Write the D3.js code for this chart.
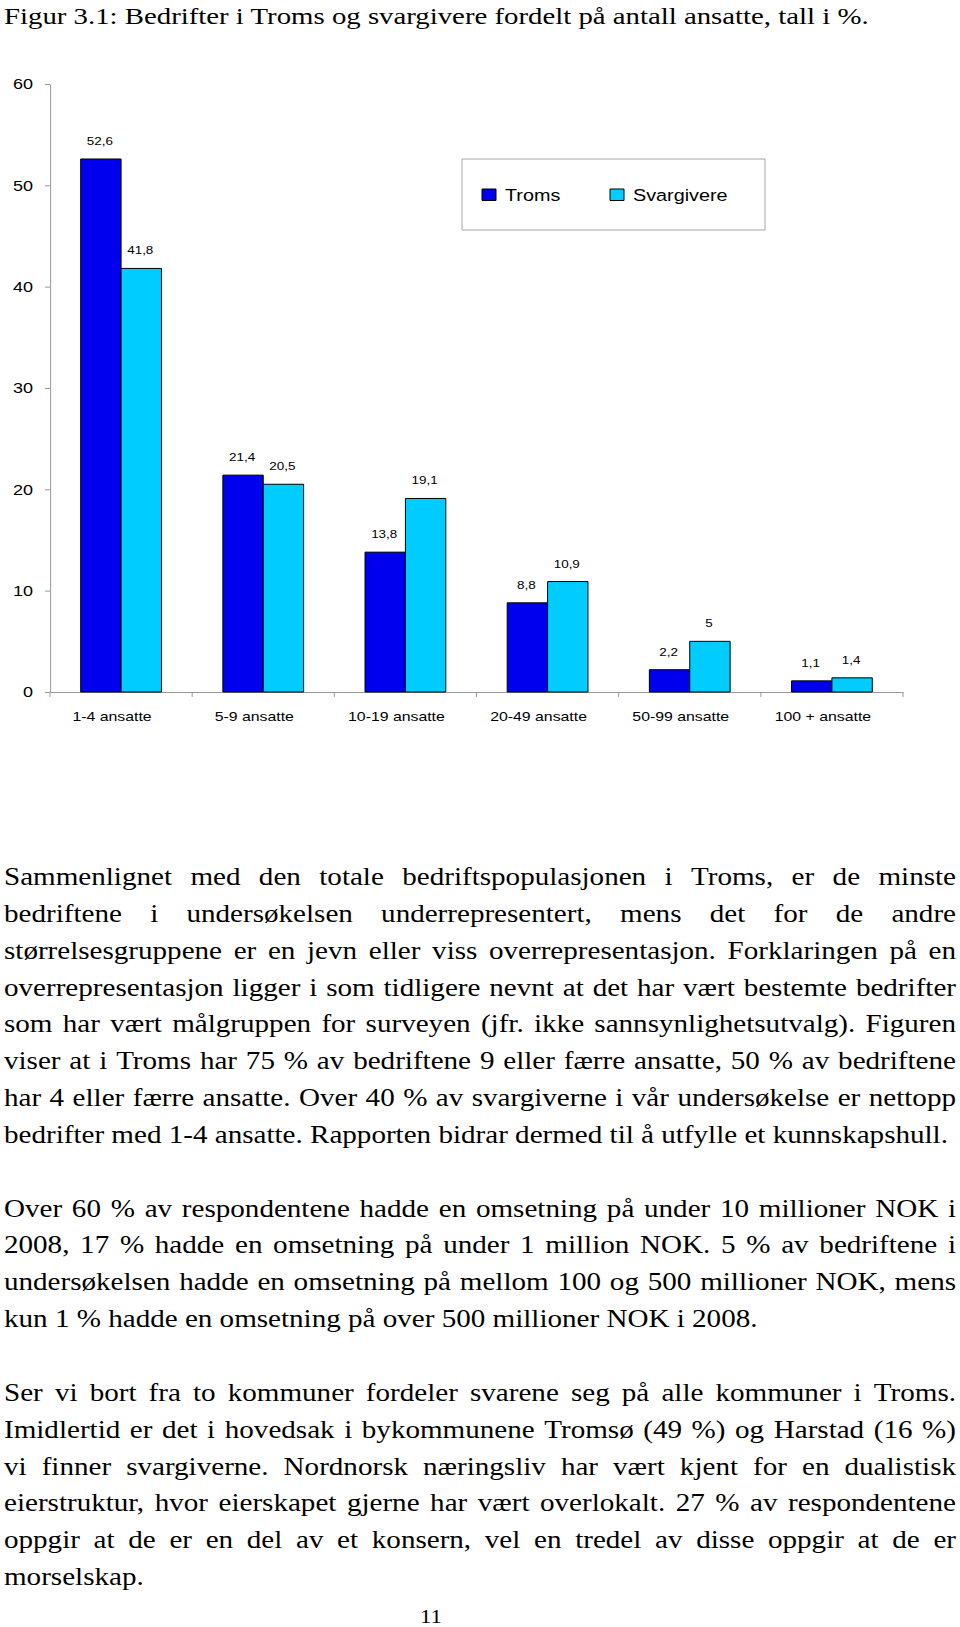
<!DOCTYPE html>
<html>
<head>
<meta charset="utf-8">
<script src="https://cdn.jsdelivr.net/npm/d3@7"></script>
<style>
  html, body { margin: 0; padding: 0; background: #fff; }
  svg { display: block; }
</style>
</head>
<body>
<div id="page"></div>
<script>
// data
const categories = ["1-4 ansatte", "5-9 ansatte", "10-19 ansatte", "20-49 ansatte", "50-99 ansatte", "100 + ansatte"];
const series = ["Troms", "Svargivere"];
const troms = [52.6, 21.4, 13.8, 8.8, 2.2, 1.1];
const svargivere = [41.8, 20.5, 19.1, 10.9, 5, 1.4];
const yTicks = [0, 10, 20, 30, 40, 50, 60];
const colors = ["#0000ee", "#00ccff"];

const title = "Figur 3.1: Bedrifter i Troms og svargivere fordelt på antall ansatte, tall i %.";
const paragraphs = [
  [
    "Sammenlignet med den totale bedriftspopulasjonen i Troms, er de minste",
    "bedriftene i undersøkelsen underrepresentert, mens det for de andre",
    "størrelsesgruppene er en jevn eller viss overrepresentasjon. Forklaringen på en",
    "overrepresentasjon ligger i som tidligere nevnt at det har vært bestemte bedrifter",
    "som har vært målgruppen for surveyen (jfr. ikke sannsynlighetsutvalg).  Figuren",
    "viser at i Troms har 75 % av bedriftene 9 eller færre ansatte, 50 % av bedriftene",
    "har 4 eller færre ansatte. Over 40 % av svargiverne i vår undersøkelse er nettopp",
    "bedrifter med 1-4 ansatte. Rapporten bidrar dermed til å utfylle et kunnskapshull."
  ],
  [
    "Over 60 % av respondentene hadde en omsetning på under 10 millioner NOK i",
    "2008, 17 % hadde en omsetning på under 1 million NOK. 5 % av bedriftene i",
    "undersøkelsen hadde en omsetning på mellom 100 og 500 millioner NOK, mens",
    "kun 1 % hadde en omsetning på over 500 millioner NOK i 2008."
  ],
  [
    "Ser vi bort fra to kommuner fordeler svarene seg på alle kommuner i Troms.",
    "Imidlertid er det i hovedsak i bykommunene Tromsø (49 %) og Harstad (16 %)",
    "vi finner svargiverne. Nordnorsk næringsliv har vært kjent for en dualistisk",
    "eierstruktur, hvor eierskapet gjerne har vært overlokalt. 27 % av respondentene",
    "oppgir at de er en del av et konsern, vel en tredel av disse oppgir at de er",
    "morselskap."
  ]
];

// the scanned page is wider than tall, so draw in narrower units and stretch
const K = 1.2;
const W = 960, H = 1627;
const fx = px => px / K;

const svg = d3.select("#page").append("svg")
  .attr("width", W)
  .attr("height", H)
  .attr("viewBox", `0 0 ${W / K} ${H}`)
  .attr("preserveAspectRatio", "none");

const serif = "'Liberation Serif', 'Times New Roman', serif";
const sans = "'Liberation Sans', Arial, sans-serif";

svg.append("text")
  .attr("x", fx(4)).attr("y", 24)
  .attr("font-family", serif).attr("font-size", 24)
  .text(title);

// chart
const x0 = d3.scaleBand().domain(categories).range([fx(50), fx(903)]);
const x1 = d3.scaleBand().domain(series).range([0, x0.bandwidth()]).paddingOuter(0.76);
const y = d3.scaleLinear().domain([0, 60]).range([692, 84]);

const yAxis = svg.append("g")
  .attr("transform", `translate(${fx(50)},0)`)
  .call(d3.axisLeft(y).tickValues(yTicks).tickSize(fx(5)).tickSizeOuter(0).tickPadding(fx(12)));
yAxis.select(".domain").attr("stroke", "#999").attr("vector-effect", "non-scaling-stroke");
yAxis.selectAll(".tick line").attr("stroke", "#999").attr("vector-effect", "non-scaling-stroke");
yAxis.selectAll(".tick text").attr("font-family", sans).attr("font-size", 15).attr("fill", "#000");

const xAxis = svg.append("g")
  .attr("transform", `translate(0,${y(0)})`)
  .call(d3.axisBottom(x0).tickSize(0).tickPadding(20));
xAxis.select(".domain").attr("stroke", "#999").attr("vector-effect", "non-scaling-stroke");
xAxis.selectAll(".tick text")
  .attr("x", fx(-9))
  .attr("font-family", sans).attr("font-size", 13.2).attr("fill", "#000");

const bounds = categories.map(c => x0(c)).concat([x0.range()[1]]);
xAxis.selectAll(".bound")
  .data(bounds)
  .enter().append("line")
  .attr("x1", d => d).attr("x2", d => d)
  .attr("y1", 0).attr("y2", 5)
  .attr("stroke", "#999")
  .attr("vector-effect", "non-scaling-stroke");

const rows = categories.map((c, i) => ({ cat: c, values: [troms[i], svargivere[i]] }));

const group = svg.selectAll(".grp")
  .data(rows)
  .enter().append("g")
  .attr("transform", d => `translate(${x0(d.cat)},0)`);

group.selectAll("rect")
  .data(d => d.values.map((v, j) => ({ s: series[j], v: v, j: j })))
  .enter().append("rect")
  .attr("x", d => x1(d.s))
  .attr("y", d => y(d.v))
  .attr("width", x1.bandwidth())
  .attr("height", d => y(0) - y(d.v))
  .attr("fill", d => colors[d.j])
  .attr("stroke", "#000")
  .attr("stroke-width", 1)
  .attr("vector-effect", "non-scaling-stroke");

group.selectAll(".val")
  .data(d => d.values.map((v, j) => ({ s: series[j], v: v })))
  .enter().append("text")
  .attr("x", d => x1(d.s) + x1.bandwidth() / 2 - fx(1))
  .attr("y", d => y(d.v) - 14)
  .attr("text-anchor", "middle")
  .attr("font-family", sans).attr("font-size", 11.2)
  .text(d => String(d.v).replace(".", ","));

// legend
const leg = svg.append("g");
leg.append("rect")
  .attr("x", fx(462)).attr("y", 159)
  .attr("width", fx(303)).attr("height", 71)
  .attr("fill", "#fff").attr("stroke", "#a6a6a6")
  .attr("vector-effect", "non-scaling-stroke");
const legX = [482, 610];
series.forEach((s, i) => {
  leg.append("rect")
    .attr("x", fx(legX[i])).attr("y", 189)
    .attr("width", fx(14)).attr("height", 11.5)
    .attr("fill", colors[i]).attr("stroke", "#000")
    .attr("vector-effect", "non-scaling-stroke");
  leg.append("text")
    .attr("x", fx(legX[i] + 23)).attr("y", 201)
    .attr("font-family", sans).attr("font-size", 16.5)
    .text(s);
});

// body text, justified by hand
const left = fx(4), right = fx(956);
const body = svg.append("g").attr("font-family", serif).attr("font-size", 24.25);
let lineNo = 0;
paragraphs.forEach(lines => {
  lines.forEach((str, k) => {
    const yb = 885 + lineNo * 36.85;
    const t = body.append("text").attr("y", yb);
    if (k === lines.length - 1) {
      t.attr("x", left).text(str);
    } else {
      const words = str.split(/\s+/);
      const spans = words.map(w => t.append("tspan").text(w));
      const widths = spans.map(s => s.node().getComputedTextLength());
      const gap = (right - left - d3.sum(widths)) / (words.length - 1);
      let xx = left;
      spans.forEach((s, i) => { s.attr("x", xx); xx += widths[i] + gap; });
    }
    lineNo++;
  });
  lineNo++;
});

svg.append("text")
  .attr("x", fx(431)).attr("y", 1623)
  .attr("text-anchor", "middle")
  .attr("font-family", serif).attr("font-size", 19)
  .text("11");
</script>
</body>
</html>
